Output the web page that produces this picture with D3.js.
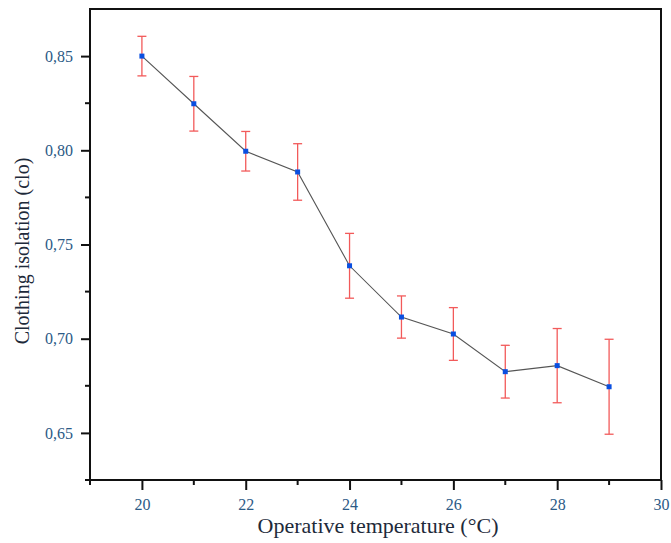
<!DOCTYPE html>
<html>
<head>
<meta charset="utf-8">
<script src="https://cdn.jsdelivr.net/npm/d3@7"></script>
<style>
  body { margin: 0; background: #fff; }
  svg { display: block; }
  text { font-family: "Liberation Serif", "DejaVu Serif", serif; }
</style>
</head>
<body>
<svg id="chart" width="671" height="543"></svg>
<script>
// operative temperature (°C) and mean clothing isolation (clo) with error
var temps = [20, 21, 22, 23, 24, 25, 26, 27, 28, 29];
var cloMean = [0.850, 0.8247, 0.7995, 0.7885, 0.7387, 0.7115, 0.7025, 0.6825, 0.6857, 0.6745];
var cloErr = [0.0105, 0.0145, 0.0105, 0.0150, 0.0172, 0.0112, 0.0140, 0.0140, 0.0197, 0.0252];
var xTicks = [20, 22, 24, 26, 28, 30];
var xMinor = [19, 21, 23, 25, 27, 29];
var yTicks = [0.65, 0.70, 0.75, 0.80, 0.85];
var yMinor = [0.625, 0.675, 0.725, 0.775, 0.825];

var svg = d3.select("#chart");
var plotL = 90, plotR = 661, plotT = 9, plotB = 480;

var x = d3.scaleLinear().domain([19, 30]).range([plotL, plotR]);
var y = d3.scaleLinear().domain([0.625, 0.875]).range([plotB, plotT]);

var tickCol = "#2b5a86";
var titleCol = "#1e2a3a";
var fmt = function(d){ return d3.format(".2f")(d).replace(".", ","); };

// frame
svg.append("rect")
    .attr("x", plotL).attr("y", plotT)
    .attr("width", plotR - plotL).attr("height", plotB - plotT)
    .attr("fill", "none").attr("stroke", "#111").attr("stroke-width", 2);

// x axis
var gx = svg.append("g").attr("transform", "translate(0," + plotB + ")");
gx.call(d3.axisBottom(x).tickValues(xTicks).tickSize(10).tickFormat(d3.format("d")));
gx.select(".domain").remove();
gx.selectAll(".tick line").attr("stroke", "#111").attr("stroke-width", 2);
gx.selectAll(".tick text").attr("fill", tickCol).attr("font-size", 16).attr("dy", "1.05em");
gx.selectAll(".minor").data(xMinor).enter().append("line")
    .attr("x1", function(d){ return x(d); }).attr("x2", function(d){ return x(d); })
    .attr("y1", 0).attr("y2", 5)
    .attr("stroke", "#111").attr("stroke-width", 2);

// y axis
var gy = svg.append("g").attr("transform", "translate(" + plotL + ",0)");
gy.call(d3.axisLeft(y).tickValues(yTicks).tickSize(9).tickFormat(fmt));
gy.select(".domain").remove();
gy.selectAll(".tick line").attr("stroke", "#111").attr("stroke-width", 2);
gy.selectAll(".tick text").attr("fill", tickCol).attr("font-size", 16).attr("x", -17);
gy.selectAll(".minor").data(yMinor).enter().append("line")
    .attr("x1", -5).attr("x2", 0)
    .attr("y1", function(d){ return y(d); }).attr("y2", function(d){ return y(d); })
    .attr("stroke", "#111").attr("stroke-width", 2);

// titles
svg.append("text")
    .attr("x", 378).attr("y", 533)
    .attr("text-anchor", "middle").attr("font-size", 22).attr("fill", titleCol)
    .text("Operative temperature (°C)");
svg.append("text")
    .attr("transform", "translate(29,251) rotate(-90)")
    .attr("text-anchor", "middle").attr("font-size", 20).attr("fill", titleCol)
    .text("Clothing isolation (clo)");

var pts = temps.map(function(t, i){ return { t: t, m: cloMean[i], e: cloErr[i] }; });

// connecting line
svg.append("path")
    .datum(pts)
    .attr("fill", "none").attr("stroke", "#555").attr("stroke-width", 1.1)
    .attr("d", d3.line().x(function(d){ return x(d.t); }).y(function(d){ return y(d.m); }));

// error bars
var eb = svg.append("g").attr("stroke", "#f25a5a").attr("stroke-width", 1.3);
eb.selectAll(".v").data(pts).enter().append("line")
    .attr("x1", function(d){ return x(d.t); }).attr("x2", function(d){ return x(d.t); })
    .attr("y1", function(d){ return y(d.m + d.e); }).attr("y2", function(d){ return y(d.m - d.e); });
eb.selectAll(".top").data(pts).enter().append("line")
    .attr("x1", function(d){ return x(d.t) - 4.5; }).attr("x2", function(d){ return x(d.t) + 4.5; })
    .attr("y1", function(d){ return y(d.m + d.e); }).attr("y2", function(d){ return y(d.m + d.e); });
eb.selectAll(".bot").data(pts).enter().append("line")
    .attr("x1", function(d){ return x(d.t) - 4.5; }).attr("x2", function(d){ return x(d.t) + 4.5; })
    .attr("y1", function(d){ return y(d.m - d.e); }).attr("y2", function(d){ return y(d.m - d.e); });

// markers
svg.append("g").selectAll("rect").data(pts).enter().append("rect")
    .attr("x", function(d){ return x(d.t) - 2.5; })
    .attr("y", function(d){ return y(d.m) - 2.5; })
    .attr("width", 5).attr("height", 5)
    .attr("fill", "#0a4fe0");
</script>
</body>
</html>
